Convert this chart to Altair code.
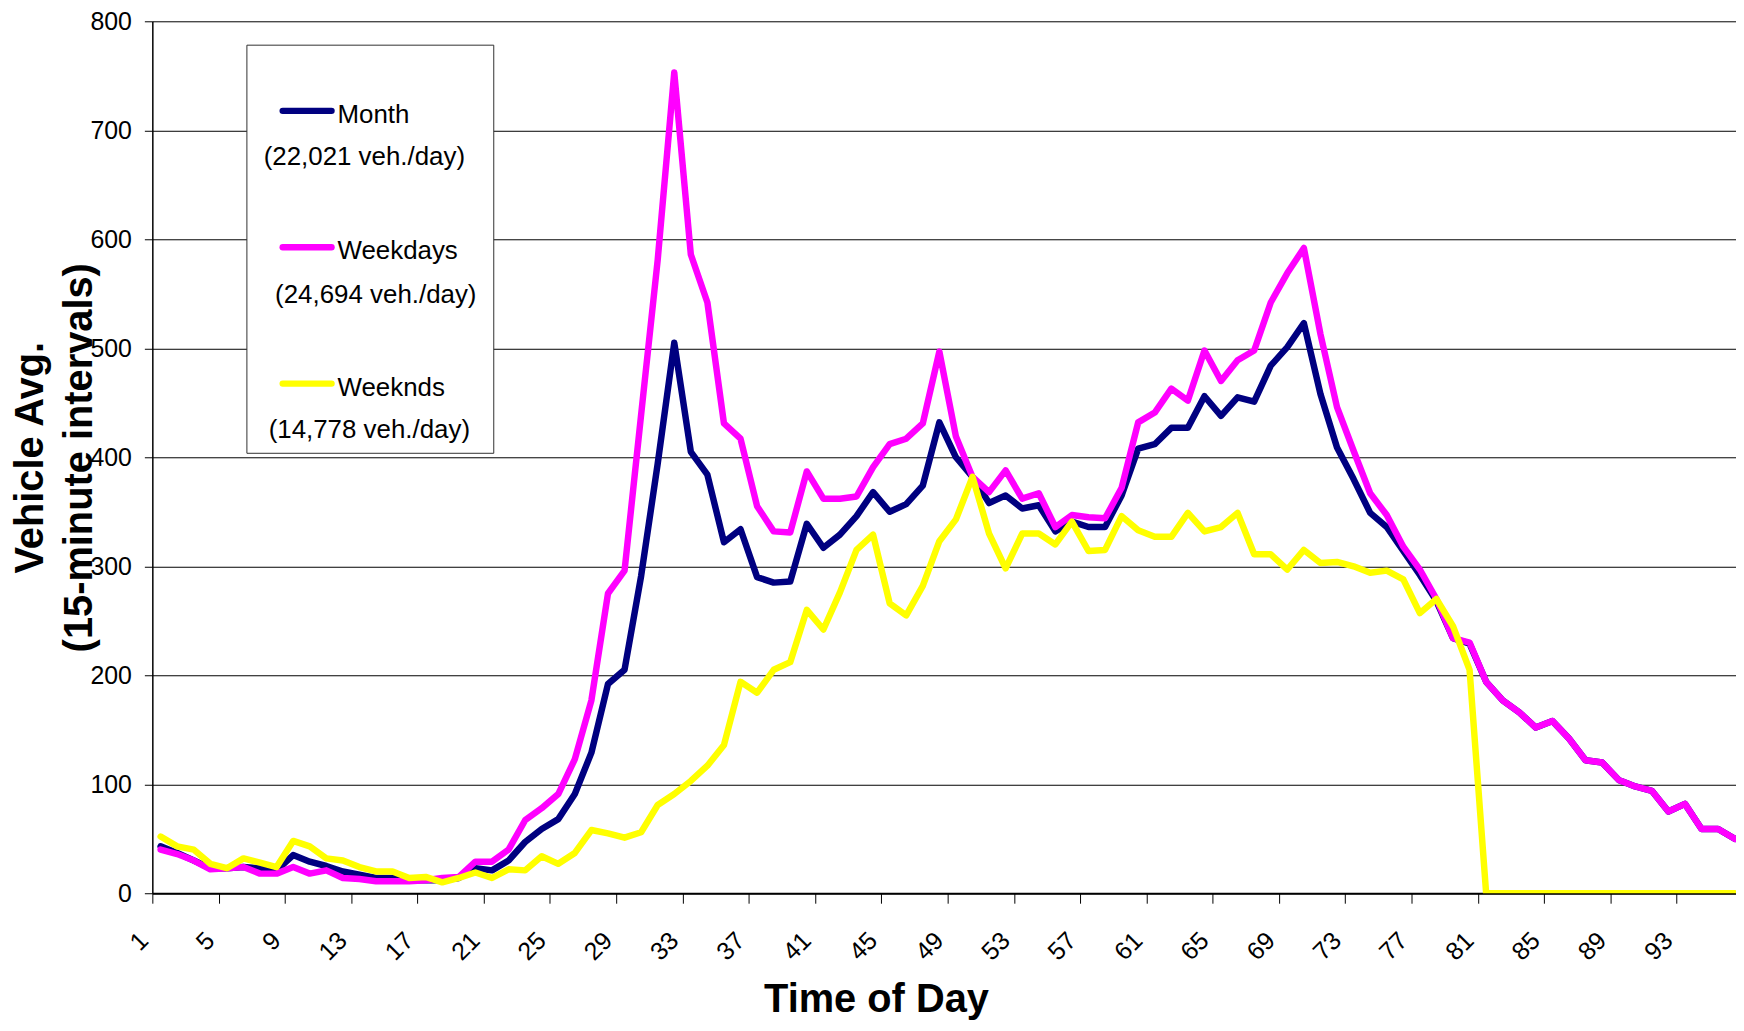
import altair as alt
import pandas as pd

# ---------------- data ----------------
time_idx = list(range(1, 97))

month = [43, 37, 30, 23, 23, 24, 23, 21, 35, 29,
         25, 20, 17, 14, 14, 12, 12, 12, 14, 23,
         21, 30, 47, 59, 68, 91, 129, 192, 205, 291,
         394, 505, 405, 384, 322, 334, 290, 285, 286, 339,
         317, 329, 346, 368, 350, 357, 374, 432, 400, 382,
         358, 365, 353, 356, 332, 341, 336, 336, 365, 408,
         412, 427, 427, 456, 438, 455, 451, 484, 501, 523,
         458, 409, 380, 349, 336, 314, 292, 268, 234, 229,
         194, 177, 166, 152, 158, 142, 122, 120, 104, 98,
         94, 75, 82, 59, 59, 50]

weekdays = [40, 36, 30, 22, 23, 24, 18, 18, 24, 18,
            21, 14, 13, 11, 11, 11, 12, 14, 15, 29,
            29, 40, 67, 78, 91, 123, 177, 275, 296, 439,
            581, 753, 586, 542, 431, 417, 355, 332, 331, 387,
            362, 362, 364, 391, 412, 417, 431, 497, 419, 382,
            368, 388, 362, 367, 336, 347, 345, 344, 372, 432,
            441, 463, 452, 498, 470, 489, 498, 542, 569, 592,
            513, 446, 406, 367, 347, 318, 297, 270, 234, 230,
            194, 177, 166, 152, 158, 142, 122, 120, 104, 98,
            94, 75, 82, 59, 59, 50]

weeknds = [52, 43, 40, 27, 23, 32, 28, 24, 48, 43,
           32, 30, 24, 20, 20, 14, 15, 10, 14, 19,
           14, 22, 21, 34, 27, 37, 58, 55, 51, 56,
           81, 91, 103, 117, 136, 194, 184, 205, 212, 260,
           242, 276, 315, 329, 266, 255, 282, 323, 343, 382,
           330, 298, 330, 330, 320, 341, 314, 315, 346, 333,
           327, 327, 349, 332, 336, 349, 311, 311, 297, 315,
           303, 304, 300, 294, 296, 288, 257, 270, 245, 205,
           0, 0, 0, 0, 0, 0, 0, 0, 0, 0,
           0, 0, 0, 0, 0, 0]

series_names = ["Month", "Weekdays", "Weeknds"]
series_colors = ["#000080", "#FF00FF", "#FFFF00"]
series_subtitles = ["(22,021 veh./day)", "(24,694 veh./day)", "(14,778 veh./day)"]

x_label_values = list(range(1, 94, 4))
x_tick_values = [0.5 + 4 * k for k in range(24)]
y_tick_values = list(range(0, 801, 100))

y_title = ["Vehicle Avg.", "(15-minute intervals)"]
x_title = "Time of Day"

FONT = "Liberation Sans"
LINE_W = 6.5

df = pd.DataFrame({
    "time": time_idx * 3,
    "series": [series_names[0]] * 96 + [series_names[1]] * 96 + [series_names[2]] * 96,
    "value": month + weekdays + weeknds,
})

x_scale = alt.Scale(domain=[0.5, 96.08], nice=False, zero=False)
y_scale = alt.Scale(domain=[0, 800], nice=False)

y_enc = alt.Y(
    "value:Q",
    scale=y_scale,
    axis=alt.Axis(
        values=y_tick_values,
        grid=True, gridColor="#000000", gridWidth=1,
        domain=True, domainColor="#000000", domainWidth=1.5,
        ticks=True, tickSize=8, tickColor="#000000",
        labelFont=FONT, labelFontSize=25, labelColor="#000000", labelPadding=13,
        title=y_title, titleFont=FONT, titleFontSize=40, titleFontWeight="bold",
        titleColor="#000000", titleAngle=270, titleAlign="center",
        titleBaseline="alphabetic", titleX=-110, titleY=438, titleLineHeight=49,
    ),
)

label_axis = alt.Axis(
    orient="bottom", values=x_label_values,
    labelAngle=315, labelAlign="right", labelBaseline="middle",
    labelOffset=-17, labelPadding=43, labelFlush=False, labelOverlap=False,
    labelFont=FONT, labelFontSize=25, labelColor="#000000",
    ticks=False, tickSize=0, grid=False,
    domain=True, domainColor="#000000", domainWidth=2,
    title=x_title, titleFont=FONT, titleFontSize=40, titleFontWeight="bold",
    titleColor="#000000", titleX=727, titleY=119, titleAlign="center",
    titleBaseline="alphabetic",
)

tick_axis = alt.Axis(
    orient="bottom", values=x_tick_values, labels=False,
    ticks=True, tickSize=10, tickColor="#000000", tickWidth=1,
    domain=False, grid=False, title="",
)

base = alt.Chart(df)

layers = []
axes = [label_axis, None, tick_axis]
for name, color, ax in zip(series_names, series_colors, axes):
    if ax is None:
        xenc = alt.X("time:Q", scale=x_scale, axis=None)
    else:
        xenc = alt.X("time:Q", scale=x_scale, axis=ax)
    layers.append(
        base.transform_filter(alt.datum.series == name)
        .mark_line(color=color, strokeWidth=LINE_W, strokeJoin="round", strokeCap="round", clip=True)
        .encode(x=xenc, y=y_enc)
    )

# ---------------- legend (drawn by hand) ----------------
dummy = pd.DataFrame({"a": [0]})
legend_box = alt.Chart(dummy).mark_rect(
    fill="white", stroke="#303030", strokeWidth=1
).encode(x=alt.value(95), x2=alt.value(343), y=alt.value(24), y2=alt.value(434))
layers.append(legend_box)

swatch_y = [90, 227, 364]
name_base = [102, 239, 376]
sub_base = [144, 283, 419]
sub_cx = [213, 224.5, 218]
for name, color, sub, sy, nb, sb, cx in zip(series_names, series_colors, series_subtitles,
                                            swatch_y, name_base, sub_base, sub_cx):
    layers.append(
        alt.Chart(dummy).mark_rule(color=color, strokeWidth=LINE_W, strokeCap="round")
        .encode(x=alt.value(131), x2=alt.value(180), y=alt.value(sy))
    )
    layers.append(
        alt.Chart(dummy).mark_text(text=name, align="left", baseline="alphabetic",
                                   font=FONT, fontSize=26, color="#000000")
        .encode(x=alt.value(186), y=alt.value(nb))
    )
    layers.append(
        alt.Chart(dummy).mark_text(text=sub, align="center", baseline="alphabetic",
                                   font=FONT, fontSize=26, color="#000000")
        .encode(x=alt.value(cx), y=alt.value(sb))
    )

chart = (
    alt.layer(*layers)
    .resolve_axis(x="independent")
    .properties(
        width=1591, height=876,
        padding={"left": 145, "top": 11, "right": 0, "bottom": 128},
        autosize=alt.AutoSizeParams(type="none"),
        background="white",
    )
    .configure_view(stroke="transparent")
)

chart.save("out.html", embed_options={"renderer": "svg", "actions": False})
